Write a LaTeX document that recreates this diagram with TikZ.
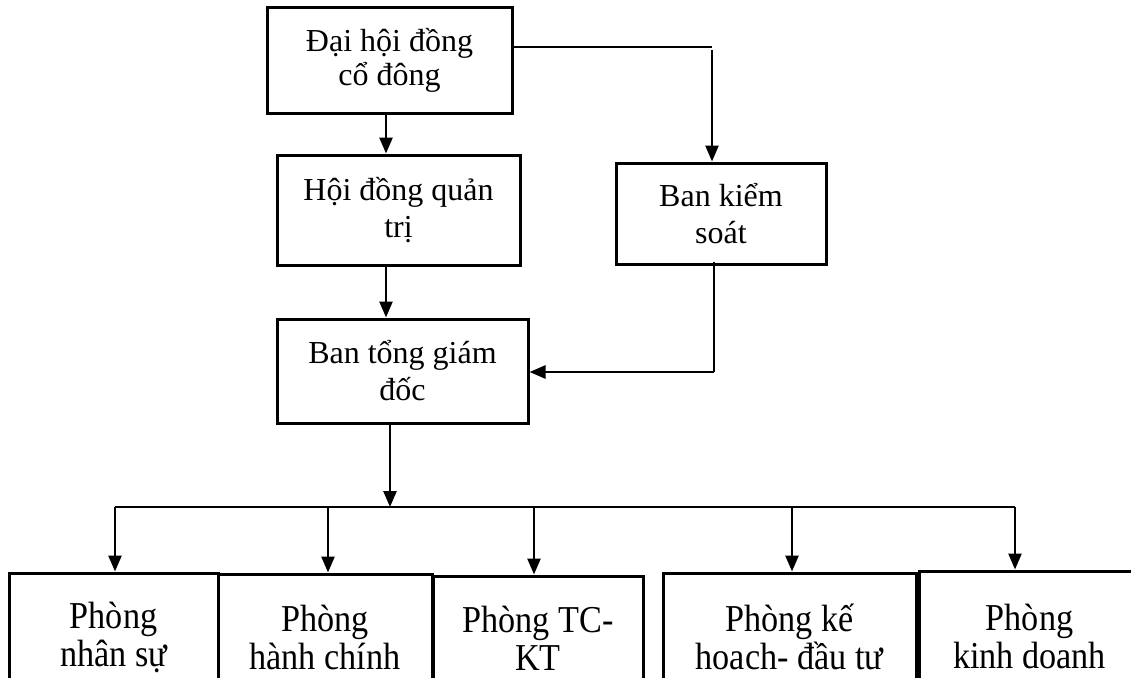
\documentclass[tikz,border=0pt]{standalone}
\usepackage{fontspec}
\setmainfont{Liberation Serif}
\newfontfamily\deptfont[FakeStretch=0.9]{Liberation Serif}
\usetikzlibrary{arrows.meta}

\begin{document}
\begin{tikzpicture}[
    x = 1pt, y = -1pt,
    box/.style = {draw, line width = 3pt, align = center, inner sep = 0pt,
        font = \fontsize{32}{37}\selectfont},
    dept/.style = {box, font = \deptfont\fontsize{38}{38}\selectfont},
    arr/.style = {-{Triangle[length = 16pt, width = 13pt]}, line width = 2.6pt},
    link/.style = {line width = 1.5pt}
]
\useasboundingbox (0,0) rectangle (1131,677);

% upper levels
\node[box, minimum width = 245pt, minimum height = 105pt, font = \fontsize{32}{34}\selectfont]
    (dhdcd) at (389.5,60.5) {Đại hội đồng\\cổ đông};
\node[box, minimum width = 243pt, minimum height = 110pt] (hdqt) at (398.5,210) {Hội đồng quản\\trị};
\node[box, minimum width = 210pt, minimum height = 101pt] (bks) at (721,213.5) {Ban kiểm\\soát};
\node[box, minimum width = 251pt, minimum height = 104pt] (btgd) at (402.5,371) {Ban tổng giám\\đốc};

% departments
\node[dept, minimum width = 209pt, minimum height = 128pt] (pns) at (113.5,637) {Phòng\\nhân sự};
\node[dept, minimum width = 214pt, minimum height = 127pt] (phc) at (325,637.5) {Phòng\\hành chính};
\node[dept, minimum width = 210pt, minimum height = 125pt] (ptc) at (538,638.5) {Phòng TC-\\KT};
\node[dept, minimum width = 253pt, minimum height = 128pt] (pkh) at (789.5,637) {Phòng kế\\hoach- đầu tư};
\node[dept, minimum width = 221pt, minimum height = 130pt] (pkd) at (1029.5,636) {Phòng\\kinh doanh};

\coordinate (kn) at (712,47);
\coordinate (kb) at (714,372);
\coordinate (bus) at (390,507);

\draw[arr] ([xshift = -3.5pt]dhdcd.south) -- ([xshift = -3.5pt]dhdcd.south |- hdqt.north);
\draw[link] (dhdcd.east |- kn) -- (kn);
\draw[arr] ([yshift = -3pt]kn) -- (kn |- bks.north);
\draw[arr] ([xshift = -3.5pt]dhdcd.south |- hdqt.south) -- ([xshift = -3.5pt]dhdcd.south |- btgd.north);
\draw[link] ([yshift = 4pt]bks.south -| kb) -- (kb);
\draw[arr] (kb) -- (btgd.east |- kb);
\draw[arr] (btgd.south -| bus) -- (bus);
\draw[link] (115,507) -- (1015,507);
\foreach \b/\dx in {pns/1.5, phc/3, ptc/-4, pkh/2.5, pkd/-14.5}
    \draw[arr] ([xshift = \dx pt]\b.north |- bus) -- ([xshift = \dx pt]\b.north);

\end{tikzpicture}
\end{document}
